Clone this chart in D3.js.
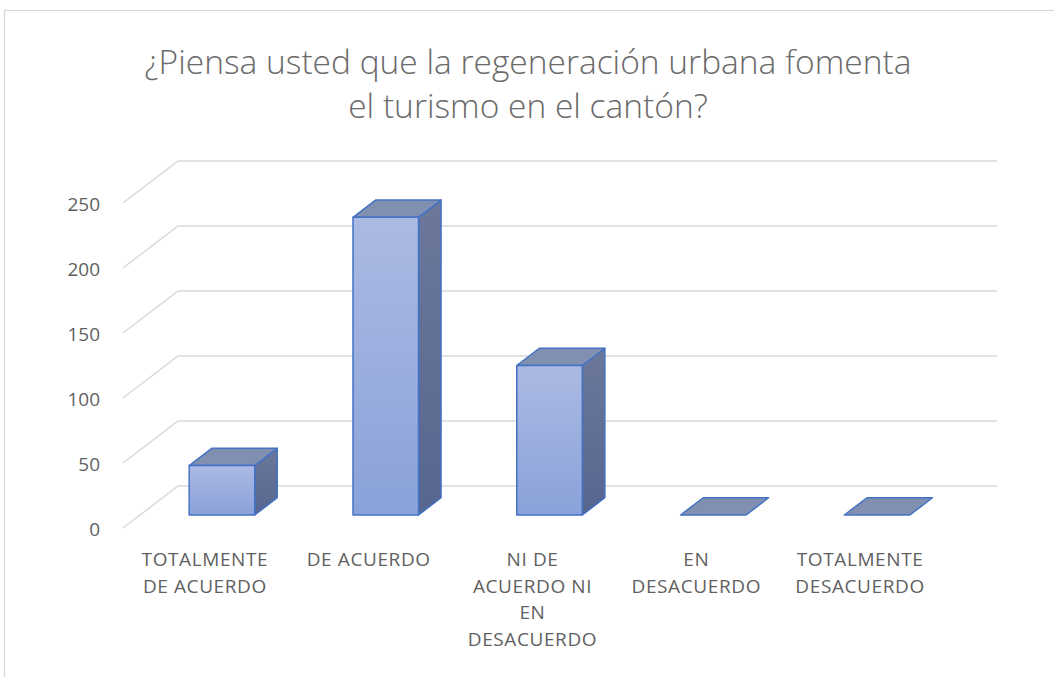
<!DOCTYPE html>
<html>
<head>
<meta charset="utf-8">
<script src="https://cdn.jsdelivr.net/npm/d3@7"></script>
<style>
  body { margin: 0; background: #fff; }
  text { font-family: "Open Sans", sans-serif; fill: #5f5f5f; }
</style>
</head>
<body>
<div id="chart"></div>
<script>
// data
const categories = ["TOTALMENTE DE ACUERDO", "DE ACUERDO", "NI DE ACUERDO NI EN DESACUERDO", "EN DESACUERDO", "TOTALMENTE DESACUERDO"];
const labelLines = [["TOTALMENTE", "DE ACUERDO"], ["DE ACUERDO"], ["NI DE", "ACUERDO NI", "EN", "DESACUERDO"], ["EN", "DESACUERDO"], ["TOTALMENTE", "DESACUERDO"]];
const values = [38, 229, 115, 0, 0];
const yTicks = [0, 50, 100, 150, 200, 250];
const titleLines = ["¿Piensa usted que la regeneración urbana fomenta", "el turismo en el cantón?"];

const width = 1054, height = 677;

// plot front plane and depth
const front = { left: 123, right: 942, top: 203, bottom: 528 };
const depth = { dx: 55, dy: -42 };
const barDepth = [0.31, 0.72];

const svg = d3.select("#chart").append("svg")
  .attr("width", width)
  .attr("height", height);

// chart border
svg.append("rect")
  .attr("x", 4.5).attr("y", 10.5)
  .attr("width", 1100).attr("height", 1000)
  .attr("fill", "none")
  .attr("stroke", "#d9d9d9")
  .attr("stroke-width", 1.2);

const xScale = d3.scaleBand()
  .domain(categories)
  .range([front.left, front.right])
  .paddingInner(0.6)
  .paddingOuter(0.3);

const yScale = d3.scaleLinear()
  .domain([0, 250])
  .range([front.bottom, front.top]);

// project a point (x on front plane, value, depth fraction)
const P = (x, v, d) => [x + d * depth.dx, yScale(v) + d * depth.dy];

// gradients
const defs = svg.append("defs");
function grad(id, c1, c2) {
  const g = defs.append("linearGradient").attr("id", id)
    .attr("x1", 0).attr("y1", 0).attr("x2", 0).attr("y2", 1);
  g.append("stop").attr("offset", "0%").attr("stop-color", c1);
  g.append("stop").attr("offset", "100%").attr("stop-color", c2);
}
grad("gFront", "#abbae3", "#8aa2d9");
grad("gSide", "#6b789b", "#56668f");

// title
svg.append("g").selectAll("text")
  .data(titleLines)
  .join("text")
    .attr("x", 528)
    .attr("y", (d, i) => 74 + i * 44)
    .attr("text-anchor", "middle")
    .style("font-size", "33.5px")
    .style("font-weight", 300)
    .style("fill", "#6a6a6a")
    .text(d => d);

// gridlines (floor side + back wall)
const grid = svg.append("g")
  .attr("fill", "none")
  .attr("stroke", "#d9d9d9")
  .attr("stroke-width", 1.5);

grid.selectAll("path")
  .data(yTicks)
  .join("path")
    .attr("d", v => {
      const a = P(front.left, v, 0);
      const b = P(front.left, v, 1);
      const c = P(front.right, v, 1);
      return d3.line()([a, b, c]);
    });

// y tick labels
svg.append("g").selectAll("text")
  .data(yTicks)
  .join("text")
    .attr("x", 100)
    .attr("y", v => yScale(v) + 3)
    .attr("text-anchor", "end")
    .attr("dominant-baseline", "middle")
    .style("font-size", "19px")
    .text(v => v);

// bars
const bars = svg.append("g")
  .attr("stroke", "#4472c4")
  .attr("stroke-width", 1.5)
  .attr("stroke-linejoin", "round");

categories.forEach((c, i) => {
  const v = values[i];
  const x0 = xScale(c), x1 = x0 + xScale.bandwidth();
  const [d0, d1] = barDepth;
  const line = d3.line();
  const g = bars.append("g");

  if (v > 0) {
    // right side
    g.append("path")
      .attr("fill", "url(#gSide)")
      .attr("d", line([P(x1, 0, d0), P(x1, 0, d1), P(x1, v, d1), P(x1, v, d0)]) + "Z");
  }
  // top
  g.append("path")
    .attr("fill", "#8190b0")
    .attr("d", line([P(x0, v, d0), P(x1, v, d0), P(x1, v, d1), P(x0, v, d1)]) + "Z");
  if (v > 0) {
    // front
    const a = P(x0, v, d0), b = P(x1, 0, d0);
    g.append("rect")
      .attr("fill", "url(#gFront)")
      .attr("x", a[0]).attr("y", a[1])
      .attr("width", b[0] - a[0]).attr("height", b[1] - a[1]);
  }
});

// category labels
const labels = svg.append("g");
categories.forEach((c, i) => {
  labels.append("text")
    .attr("x", xScale(c) + xScale.bandwidth() / 2)
    .attr("y", 566)
    .attr("text-anchor", "middle")
    .style("font-size", "19px")
    .style("letter-spacing", "0.6px")
    .selectAll("tspan")
    .data(labelLines[i])
    .join("tspan")
      .attr("x", xScale(c) + xScale.bandwidth() / 2)
      .attr("dy", (d, j) => j === 0 ? 0 : 26.5)
      .text(d => d);
});
</script>
</body>
</html>
